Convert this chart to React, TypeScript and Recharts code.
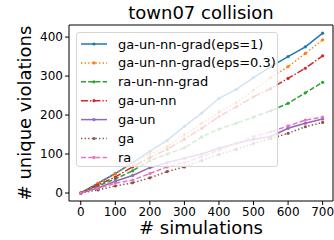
import React from 'react';
import { LineChart, Line, XAxis, YAxis, Legend, ReferenceLine } from 'recharts';

const simulations = [0, 50, 100, 150, 200, 250, 300, 350, 400, 450, 500, 550, 600, 650, 700];
const gaUnNnGradEps1 = [0, 25, 50, 78, 107, 135, 171, 205, 243, 266, 296, 324, 350, 375, 410];
const gaUnNnGradEps03 = [0, 25, 49, 78, 100, 119, 149, 179, 208, 232, 264, 296, 324, 358, 393];
const raUnNnGrad = [0, 18, 36, 57, 83, 100, 116, 144, 164, 179, 195, 211, 230, 257, 284];
const gaUnNn = [0, 21, 41, 67, 91, 112, 138, 166, 196, 221, 247, 268, 294, 320, 352];
const gaUn = [0, 13, 30, 45, 65, 78, 89, 100, 115, 127, 138, 145, 166, 179, 190];
const ga = [0, 8, 18, 26, 39, 55, 67, 83, 99, 112, 127, 140, 153, 170, 181];
const ra = [0, 12, 25, 33, 50, 67, 78, 93, 110, 127, 145, 157, 172, 187, 195];

const xTicks = [0, 100, 200, 300, 400, 500, 600, 700];
const yTicks = [0, 50, 100, 150, 200, 250, 300, 350, 400];

const series = [
  { key: 'eps1', name: 'ga-un-nn-grad(eps=1)', values: gaUnNnGradEps1, color: '#1f77b4', dash: undefined },
  { key: 'eps03', name: 'ga-un-nn-grad(eps=0.3)', values: gaUnNnGradEps03, color: '#ff7f0e', dash: '1.4 2.2' },
  { key: 'raGrad', name: 'ra-un-nn-grad', values: raUnNnGrad, color: '#2ca02c', dash: '5 2.2' },
  { key: 'gaUnNn', name: 'ga-un-nn', values: gaUnNn, color: '#d62728', dash: '7 2 1.4 2' },
  { key: 'gaUn', name: 'ga-un', values: gaUn, color: '#9467bd', dash: undefined },
  { key: 'ga', name: 'ga', values: ga, color: '#8c564b', dash: '1.4 2.2' },
  { key: 'ra', name: 'ra', values: ra, color: '#e377c2', dash: '5 2.2' },
];

const data = simulations.map((s, i) => {
  const row: Record<string, number> = { sims: s };
  series.forEach((ser) => {
    row[ser.key] = ser.values[i];
  });
  return row;
});

const font = 'DejaVu Sans, sans-serif';

const LegendBox = () => (
  <div
    style={{
      width: 202,
      height: 135,
      border: '1px solid #d6d6d6',
      borderRadius: 3,
      background: 'rgba(255,255,255,0.8)',
      boxSizing: 'border-box',
    }}
  >
    <svg width={202} height={135}>
      {series.map((s, i) => {
        const y = 11 + i * 18.9;
        return (
          <g key={s.key}>
            <line x1={4} x2={30} y1={y} y2={y} stroke={s.color} strokeWidth={1.5} strokeDasharray={s.dash} />
            <circle cx={17} cy={y} r={1.6} fill={s.color} />
            <text x={41} y={y + 4.5} fontSize={13} fontFamily={font} fill="#000">
              {s.name}
            </text>
          </g>
        );
      })}
    </svg>
  </div>
);

export default function App() {
  return (
    <div style={{ position: 'absolute', left: 0, top: 0, width: 334, height: 240, background: '#fff' }}>
      <LineChart
        width={334}
        height={240}
        data={data}
        margin={{ top: 25, right: 1, bottom: 0, left: 0 }}
        style={{ fontFamily: font }}
      >
        <XAxis
          dataKey="sims"
          type="number"
          domain={[-34, 730]}
          ticks={xTicks}
          height={39}
          stroke="#000"
          tickSize={4}
          tick={{ fontSize: 12, fill: '#000' }}
          allowDataOverflow
        />
        <YAxis
          type="number"
          domain={[-20.5, 431]}
          ticks={yTicks}
          width={69}
          stroke="#000"
          tickSize={4}
          tick={{ fontSize: 12, fill: '#000' }}
          allowDataOverflow
        />
        <ReferenceLine y={431} stroke="#000" />
        <ReferenceLine x={730} stroke="#000" />
        <Legend
          layout="horizontal"
          align="center"
          verticalAlign="middle"
          wrapperStyle={{ left: 76, top: 32, width: 202, height: 135 }}
          content={() => <LegendBox />}
        />
        {series.map((s) => (
          <Line
            key={s.key}
            dataKey={s.key}
            name={s.name}
            type="linear"
            stroke={s.color}
            strokeWidth={1.5}
            strokeDasharray={s.dash}
            dot={{ r: 1.6, fill: s.color, stroke: 'none' }}
            isAnimationActive={false}
          />
        ))}
      </LineChart>
      <svg
        width={334}
        height={240}
        style={{ position: 'absolute', left: 0, top: 0, pointerEvents: 'none' }}
      >
        <text x={201} y={19} textAnchor="middle" fontSize={18} fontFamily={font} fill="#000">
          town07 collision
        </text>
        <text x={201} y={234} textAnchor="middle" fontSize={18} fontFamily={font} fill="#000">
          # simulations
        </text>
        <text
          x={31}
          y={113}
          textAnchor="middle"
          fontSize={18}
          fontFamily={font}
          fill="#000"
          transform="rotate(-90, 31, 113)"
        >
          # unique violations
        </text>
      </svg>
    </div>
  );
}
